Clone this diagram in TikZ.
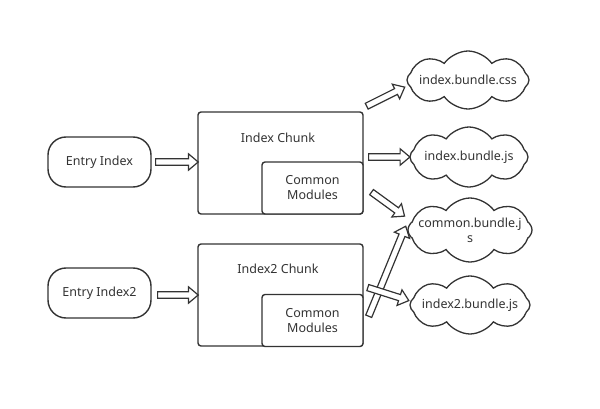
\documentclass[tikz,border=0pt]{standalone}
\usepackage{fontspec}
\setmainfont{Noto Sans}
\usetikzlibrary{shapes.symbols,shapes.arrows,calc}
\definecolor{ink}{HTML}{333333}
\tikzset{
  every node/.style={font=\fontsize{12.5}{15}\selectfont, text=ink},
  pill/.style={draw=ink, line width=1.4pt, rounded corners=18pt, minimum width=103pt, minimum height=50pt, fill=white},
  chunk/.style={draw=ink, line width=1.4pt, rounded corners=3pt, minimum width=165pt, minimum height=102pt, fill=white},
  common/.style={draw=ink, line width=1.4pt, rounded corners=3pt, minimum width=101pt, minimum height=52pt, fill=white, align=center},
  bundle/.style={cloud, cloud puffs=8, cloud puff arc=110, aspect=2.1, draw=ink, line width=1.3pt, inner sep=0pt},
  btext/.style={align=center},
  blk/.style={single arrow, draw=ink, line width=1.2pt, fill=white, inner sep=2.6pt, single arrow head extend=5pt, single arrow tip angle=80, single arrow head indent=0pt, sloped}
}
\newcommand{\hollowarrow}[2]{\path let \p1=($(#2)-(#1)$), \n1={veclen(\x1,\y1)} in (#1) -- node[blk, minimum height=\n1]{} (#2);}
\begin{document}
\begin{tikzpicture}[x=1pt,y=1pt]
\useasboundingbox (0,0) rectangle (600,408);
% entries
\node[pill] (e1) at (99.5,246) {Entry Index};
\node[pill] (e2) at (99.5,115) {Entry Index2};
% chunks
\node[chunk] (c1) at (280.5,245) {};
\node (t1) at (278,270) {Index Chunk};
\node[common] (m1) at (312.5,220) {Common\\Modules};
\node[chunk] (c2) at (280.5,113) {};
\node (t2) at (278,139) {Index2 Chunk};
\node[common] (m2) at (312.5,87.5) {Common\\Modules};
% bundles
\node[bundle, minimum width=122pt, minimum height=58pt] (b1) at (468,328) {};
\node[btext] (l1) at (b1.center) {index.bundle.css};
\node[bundle, minimum width=118pt, minimum height=60pt] (b2) at (469,251) {};
\node[btext] (l2) at (b2.center) {index.bundle.js};
\node[bundle, minimum width=124pt, minimum height=64pt] (b3) at (470,178) {};
\node[btext] (l3) at (b3.center) {common.bundle.j\\s};
\node[bundle, minimum width=120pt, minimum height=58pt] (b4) at (470,103) {};
\node[btext] (l4) at (b4.center) {index2.bundle.js};
% arrow endpoints
\coordinate (a1s) at ($(e1.east)+(2,0)$);
\coordinate (a1e) at ($(c1.west)+(-1,1)$);
\coordinate (a2s) at ($(e2.east)+(4,-2)$);
\coordinate (a2e) at ($(c2.west)+(-1,0)$);
\coordinate (a3s) at (365,301);
\coordinate (a3e) at (403,320);
\coordinate (a4s) at ($(c1.east)+(3,6)$);
\coordinate (a4e) at (408,251);
\coordinate (a5s) at (370,217);
\coordinate (a5e) at (403,193);
\coordinate (a6s) at (368,90);
\coordinate (a6e) at (405,180);
\coordinate (a7s) at (366,121);
\coordinate (a7e) at (407,108);
\hollowarrow{a1s}{a1e}
\hollowarrow{a2s}{a2e}
\hollowarrow{a3s}{a3e}
\hollowarrow{a4s}{a4e}
\hollowarrow{a5s}{a5e}
\hollowarrow{a6s}{a6e}
\hollowarrow{a7s}{a7e}
\end{tikzpicture}
\end{document}
